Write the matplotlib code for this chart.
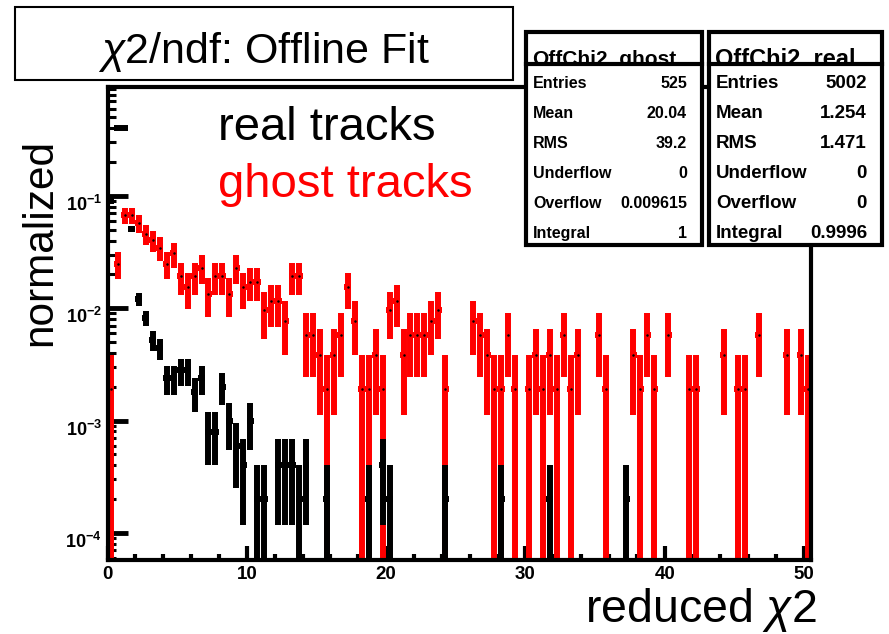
import numpy as np
import matplotlib
matplotlib.use("Agg")
import matplotlib.pyplot as plt
from matplotlib.patches import Rectangle
from matplotlib.lines import Line2D
from matplotlib.transforms import ScaledTranslation
from matplotlib.ticker import FixedLocator, FixedFormatter, MultipleLocator, LogLocator, NullFormatter

plt.rcParams['font.family'] = ['Liberation Sans', 'DejaVu Sans']
plt.rcParams['mathtext.fontset'] = 'custom'
plt.rcParams['mathtext.rm'] = 'Liberation Sans'
plt.rcParams['mathtext.it'] = 'Liberation Sans:italic'
plt.rcParams['mathtext.bf'] = 'Liberation Sans:bold'

# entries per 0.5-wide bin of reduced chi2, first bin starts at 0
BIN_WIDTH = 0.5
ghost_counts = [
    1, 13, 35, 35, 30, 24, 21, 18, 13, 16,   # 0 - 5
    10, 8, 10, 12, 7, 10, 10, 7, 12, 8,      # 5 - 10
    9, 9, 5, 6, 6, 4, 10, 10, 3, 3,          # 10 - 15
    2, 1, 2, 3, 8, 4, 1, 1, 2, 1,            # 15 - 20
    5, 6, 2, 3, 3, 3, 4, 5, 1, 0,            # 20 - 25
    0, 0, 4, 3, 2, 1, 1, 3, 1, 0,            # 25 - 30
    1, 2, 1, 2, 1, 3, 1, 2, 0, 0,            # 30 - 35
    3, 1, 0, 0, 0, 2, 1, 3, 1, 0,            # 35 - 40
    3, 0, 0, 1, 1, 0, 0, 0, 2, 0,            # 40 - 45
    1, 1, 0, 3, 0, 0, 0, 2, 0, 2,            # 45 - 50
    1,                                       # 50 - 50.5
]
real_counts = [
    450, 2000, 2023, 254, 60, 41, 26, 22, 12, 12,
    14, 14, 9, 12, 4, 4, 10, 5, 3, 2,
    5, 1, 1, 0, 2, 2, 2, 1, 2, 0,
    0, 1, 0, 0, 0, 0, 0, 1, 0, 2,
    1, 0, 0, 0, 0, 0, 0, 0, 1, 0,
    0, 0, 0, 0, 0, 0, 1, 0, 0, 0,
    0, 0, 0, 1, 0, 0, 0, 0, 0, 0,
    0, 0, 0, 0, 1, 0, 0, 0, 0, 0,
    0, 0, 0, 0, 0, 0, 0, 0, 0, 0,
    0, 0, 0, 0, 0, 0, 0, 0, 0, 0,
    0,
]
GHOST_NORM = 520
REAL_NORM = 5002

ghost_stat_names = ["Entries", "Mean", "RMS", "Underflow", "Overflow", "Integral"]
ghost_stat_values = ["525", "20.04", "39.2", "0", "0.009615", "1"]
real_stat_names = ["Entries", "Mean", "RMS", "Underflow", "Overflow", "Integral"]
real_stat_values = ["5002", "1.254", "1.471", "0", "0", "0.9996"]

y_tick_values = [1e-4, 1e-3, 1e-2, 1e-1]
y_tick_labels = [r'$\mathbf{10^{-4}}$', r'$\mathbf{10^{-3}}$', r'$\mathbf{10^{-2}}$', r'$\mathbf{10^{-1}}$']

W, H = 889, 634


def fx(x):
    return x / W


def fy(y):
    return 1 - y / H


def draw_hist_points(ax, counts, norm, color, zorder):
    counts = np.asarray(counts, dtype=float)
    centers = (np.arange(len(counts)) + 0.5) * BIN_WIDTH
    keep = counts > 0
    values = counts[keep] / norm
    errors = np.sqrt(counts[keep]) / norm
    lower = np.minimum(errors, values - 1e-9)
    ax.errorbar(centers[keep], values, yerr=[lower, errors], xerr=BIN_WIDTH / 2,
                fmt='o', ms=1.8, mfc='black', mec='none', ecolor=color,
                elinewidth=4.3, capsize=0, zorder=zorder)


def draw_stats_box(fig, left, right, title, title_size, names, values, row_size):
    top, sep, bottom = 32, 64, 245
    fig.add_artist(Rectangle((fx(left), fy(bottom)), fx(right - left), (bottom - top) / H,
                             transform=fig.transFigure, facecolor='white', edgecolor='none', zorder=10))
    fig.text(fx(left + 6), fy(sep + 1), title, fontsize=title_size, fontweight='bold',
             va='baseline', ha='left', zorder=11)
    # hide the descenders of the title below the separator
    fig.add_artist(Rectangle((fx(left + 3), fy(sep + 14)), fx(right - left - 6), 12 / H,
                             transform=fig.transFigure, facecolor='white', edgecolor='none', zorder=12))
    fig.add_artist(Rectangle((fx(left), fy(bottom)), fx(right - left), (bottom - top) / H,
                             transform=fig.transFigure, facecolor='none', edgecolor='black',
                             linewidth=3, zorder=13))
    fig.add_artist(Line2D([fx(left), fx(right)], [fy(sep), fy(sep)], transform=fig.transFigure,
                          color='black', linewidth=3, zorder=13))
    for i, (name, value) in enumerate(zip(names, values)):
        base = 88 + 30 * i
        fig.text(fx(left + 7), fy(base), name, fontsize=row_size, fontweight='bold',
                 va='baseline', ha='left', zorder=14)
        fig.text(fx(right - 15), fy(base), value, fontsize=row_size, fontweight='bold',
                 va='baseline', ha='right', zorder=14)


fig = plt.figure(figsize=(W / 100, H / 100), dpi=100)
ax = fig.add_axes([fx(107.5), fy(560), fx(811 - 107.5), (560 - 87) / H])

draw_hist_points(ax, ghost_counts, GHOST_NORM, 'red', 2)
draw_hist_points(ax, real_counts, REAL_NORM, 'black', 2.1)

ax.set_yscale('log')
ax.set_xlim(0, 50.5)
ax.set_ylim(5.74e-5, 0.934)

ax.xaxis.set_major_locator(MultipleLocator(10))
ax.xaxis.set_minor_locator(MultipleLocator(2))
ax.yaxis.set_major_locator(FixedLocator(y_tick_values))
ax.yaxis.set_major_formatter(FixedFormatter(y_tick_labels))
ax.yaxis.set_minor_locator(LogLocator(base=10, subs=np.arange(2, 10)))
ax.yaxis.set_minor_formatter(NullFormatter())

ax.tick_params(which='both', direction='in', top=False, right=False, color='black')
ax.tick_params(axis='y', which='major', length=14.5, width=3.5, pad=4, labelsize=13)
ax.tick_params(axis='y', which='minor', length=5.5, width=2.2)
ax.tick_params(axis='x', which='major', length=10, width=3, pad=4, labelsize=13.5)
ax.tick_params(axis='x', which='minor', length=4, width=3)
for lbl in ax.get_xticklabels():
    lbl.set_fontweight('bold')
# decade labels sit a little below their ticks
shift_down = ScaledTranslation(0, -0.07, fig.dpi_scale_trans)
for lbl in ax.get_yticklabels():
    lbl.set_transform(lbl.get_transform() + shift_down)
for spine in ax.spines.values():
    spine.set_linewidth(3)

# legend-like labels inside the frame
fig.text(fx(218), fy(140), 'real tracks', fontsize=34, color='black', va='baseline')
fig.text(fx(218), fy(197), 'ghost tracks', fontsize=34, color='red', va='baseline')

fig.text(fx(40), fy(242), 'normalized', fontsize=30.5, rotation=90, ha='center', va='center')
fig.text(fx(817), fy(622), r'reduced $\chi$2', fontsize=33.5, ha='right', va='baseline')

# title box
fig.add_artist(Rectangle((fx(15), fy(80)), fx(513 - 15), (80 - 7) / H, transform=fig.transFigure,
                         facecolor='white', edgecolor='black', linewidth=1.5, zorder=5))
fig.text(fx(264), fy(63), r'$\chi$2/ndf: Offline Fit', fontsize=31, ha='center', va='baseline', zorder=6)

draw_stats_box(fig, 526, 702, 'OffChi2_ghost', 15, ghost_stat_names, ghost_stat_values, 11.5)
draw_stats_box(fig, 709, 882, 'OffChi2_real', 17, real_stat_names, real_stat_values, 13.5)

fig.savefig('out.png', dpi=100)
plt.close(fig)
